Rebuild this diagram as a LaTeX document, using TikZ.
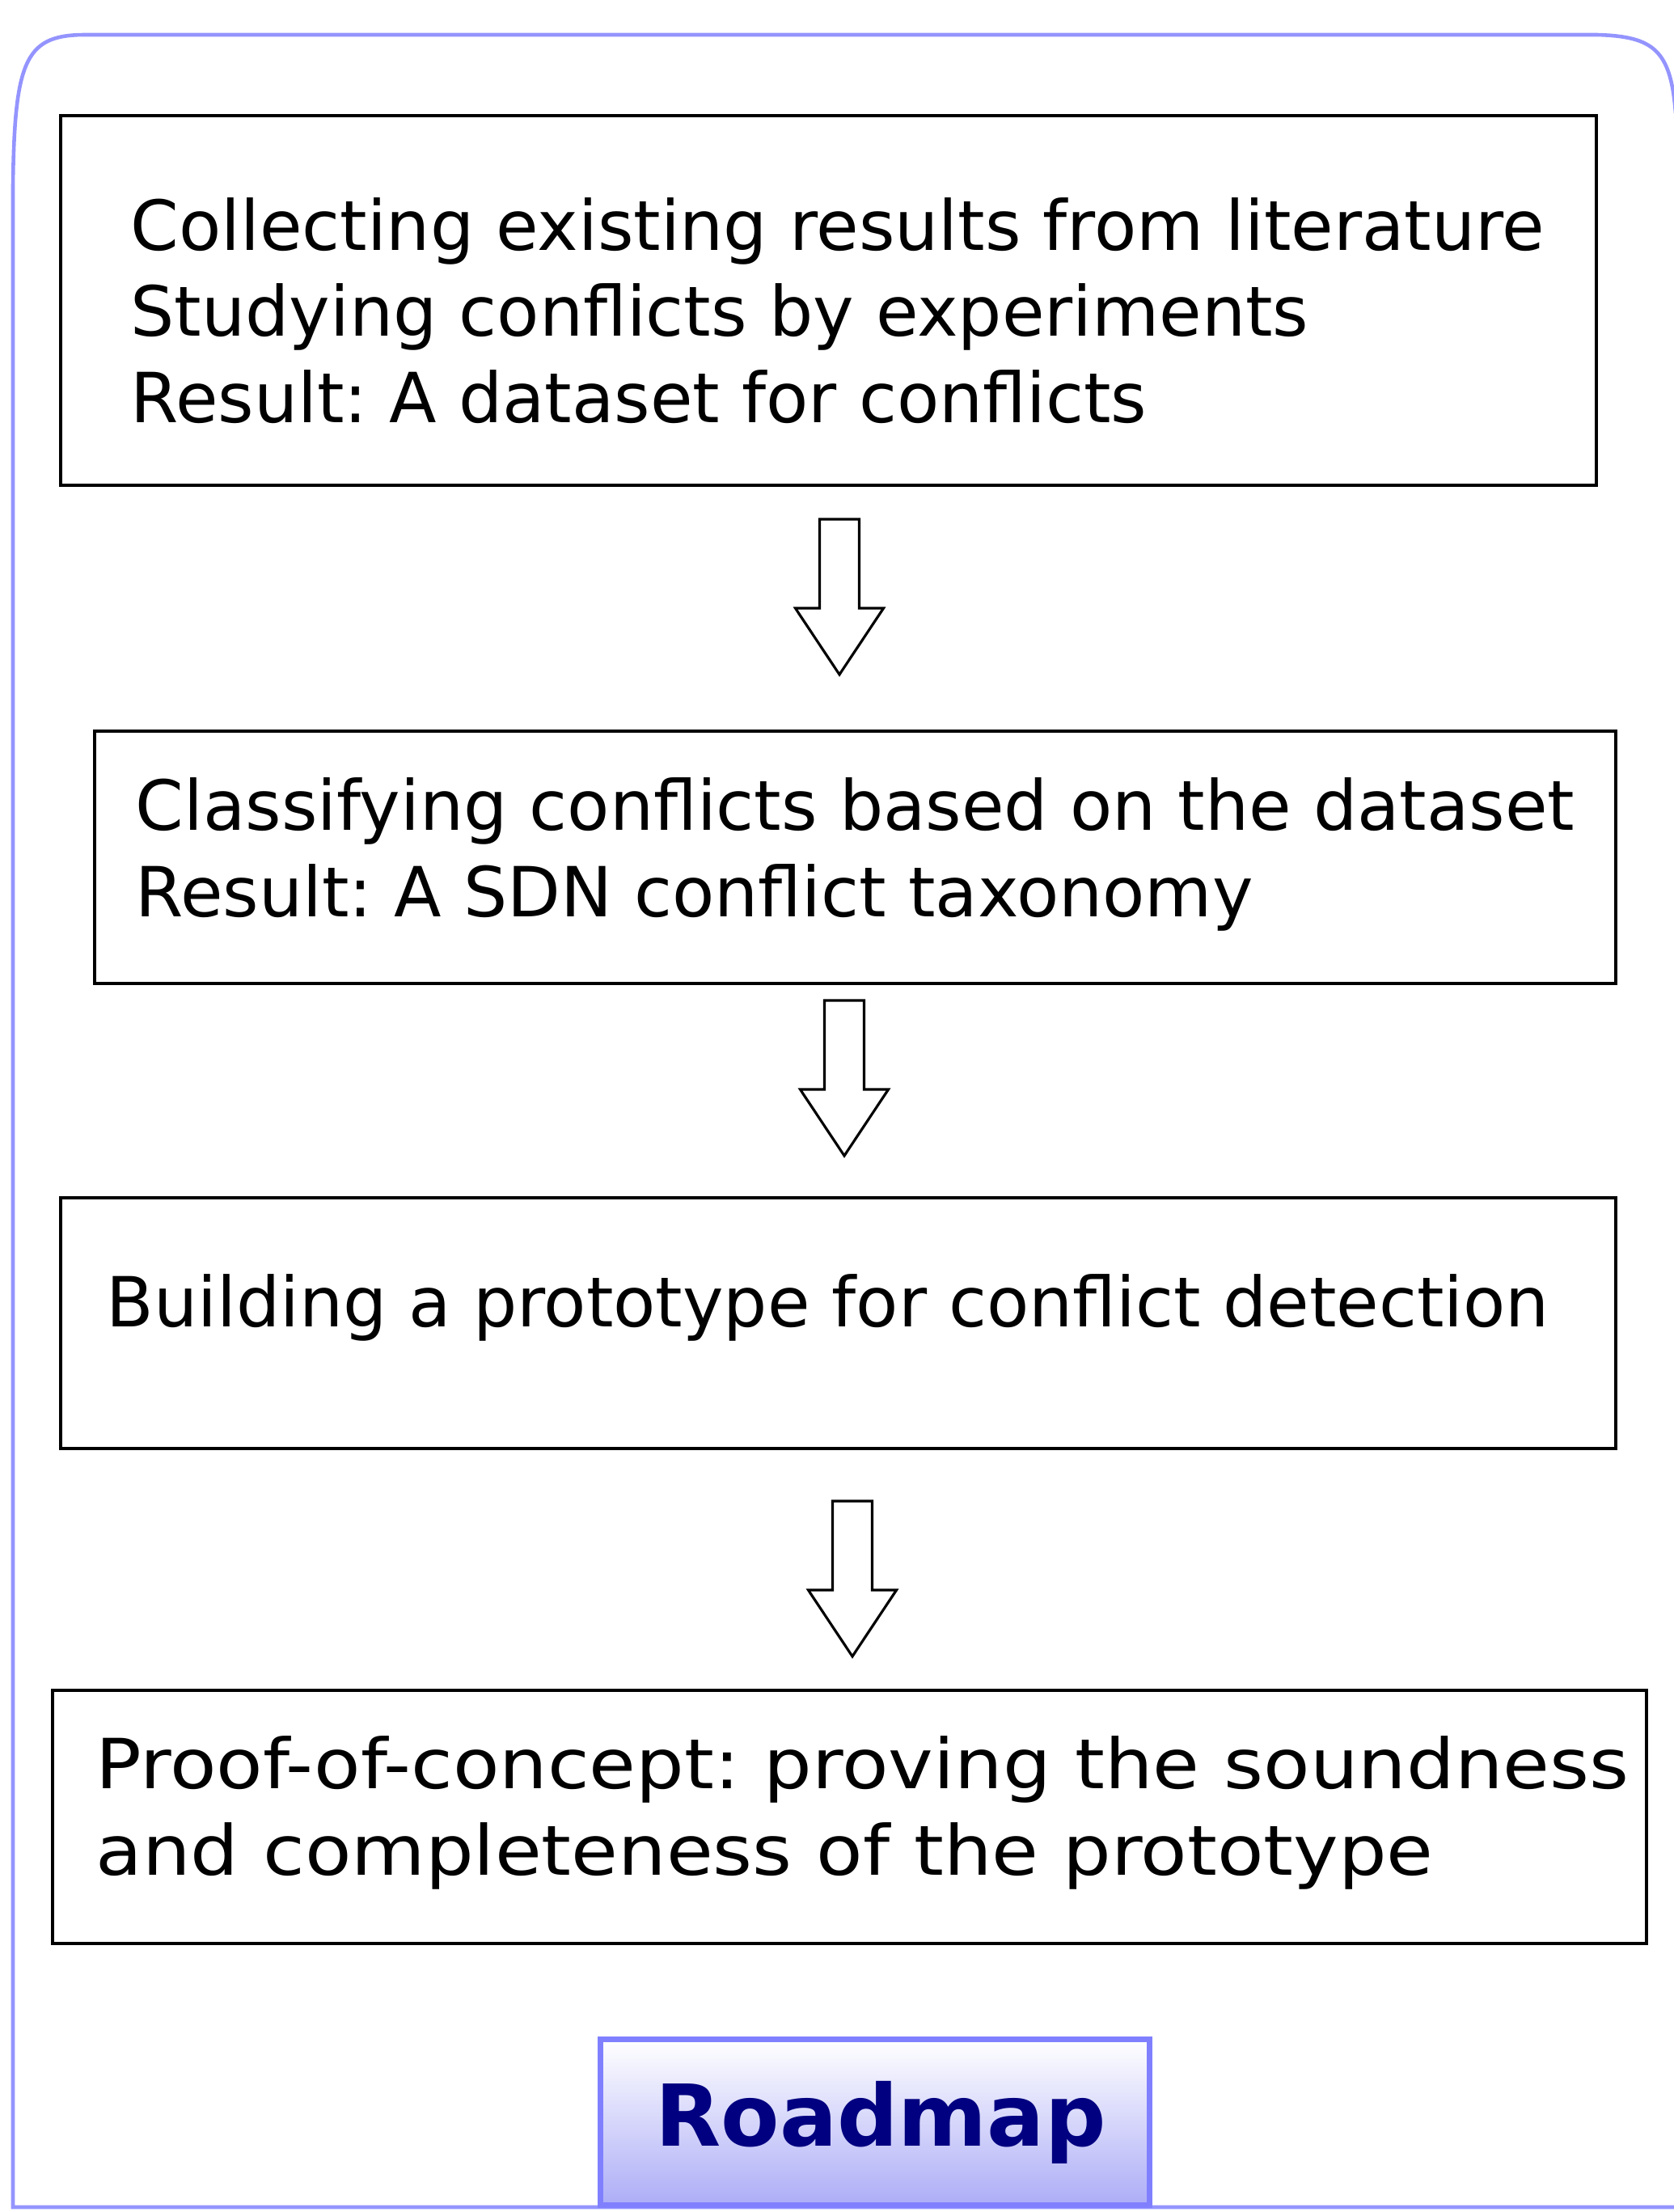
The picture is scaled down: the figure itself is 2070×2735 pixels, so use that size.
\documentclass[tikz,border=0pt]{standalone}
\usepackage{fontspec}
\setmainfont{DejaVu Sans}
\newfontfamily\widefont[FakeStretch=1.10]{DejaVu Sans}
\frenchspacing
\definecolor{framecol}{HTML}{9494FF}
\definecolor{rmline}{HTML}{8080FF}
\definecolor{rmfill}{HTML}{ADADF7}
\definecolor{rmtext}{HTML}{000080}
\tikzset{
  box/.style={draw, line width=1.1pt, rectangle, inner sep=0pt, anchor=north west},
  txt/.style={anchor=base west, inner sep=0pt, align=left,
    font=\fontsize{24.3pt}{30.16pt}\selectfont\frenchspacing},
  arrowline/.style={draw, line width=0.9pt, fill=white, line join=miter},
  frame/.style={draw=framecol, line width=1.3pt},
  roadmap/.style={draw=rmline, line width=2pt, top color=white, bottom color=rmfill,
    text=rmtext, font=\fontsize{30pt}{36pt}\selectfont\bfseries,
    minimum width=6.78cm, minimum height=2.04cm, inner sep=0pt}
}
\newcommand{\flowarrow}[1]{%
  \draw[arrowline] (#1) ++(-24.5,0) -- ++(49,0) -- ++(0,110) -- ++(30,0)
    -- ++(-54.5,82) -- ++(-54.5,-82) -- ++(30,0) -- cycle;}
\begin{document}
\begin{tikzpicture}[x=0.01cm,y=-0.01cm]
  \useasboundingbox (0,0) rectangle (2070,2735);
  \draw[frame] (2072,140) .. controls (2066,62) and (2045,45) .. (1975,43) -- (110,43)
    .. controls (32,42) and (18,70) .. (16,230) -- (16,2729) -- (2070,2729);

  \node[box, minimum width=18.98cm, minimum height=4.57cm] (collect) at (73,141) {};
  \node[txt] (collecttext) at (161,522) {Collecting existing results from literature\\
    Studying conflicts by experiments\\Result: A dataset for conflicts};
  \coordinate (arr1) at (1038,642); \flowarrow{arr1}

  \node[box, minimum width=18.80cm, minimum height=3.12cm] (classify) at (115,902) {};
  \node[txt] (classifytext) at (167,1133) {Classifying conflicts based on the dataset\\
    Result: A SDN conflict taxonomy};
  \coordinate (arr2) at (1044,1237); \flowarrow{arr2}

  \node[box, minimum width=19.22cm, minimum height=3.10cm] (build) at (73,1479) {};
  \node[txt] (buildtext) at (131,1640) {Building a prototype for conflict detection};
  \coordinate (arr3) at (1054,1856); \flowarrow{arr3}

  \node[box, minimum width=19.70cm, minimum height=3.13cm] (proof) at (63,2088) {};
  \node[txt, font=\fontsize{24.3pt}{30.16pt}\widefont\frenchspacing] (prooftext) at (118,2318)
    {Proof-of-concept: proving the soundness\\and completeness of the prototype};

  \node[roadmap] (roadmap) at (1082,2624) {\hspace*{4pt}Roadmap};
\end{tikzpicture}
\end{document}
